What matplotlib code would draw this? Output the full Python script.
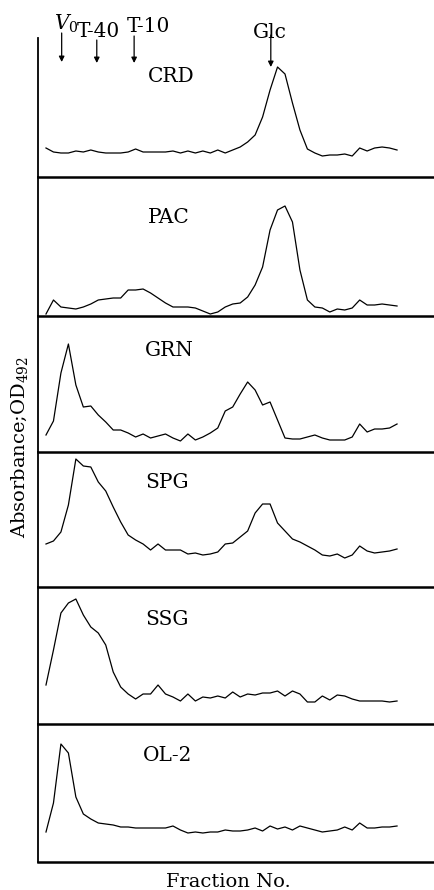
import numpy as np
import matplotlib
matplotlib.use("Agg")
import matplotlib.pyplot as plt

plt.rcParams['font.family'] = ['DejaVu Serif']
plt.rcParams['mathtext.fontset'] = 'dejavuserif'

# ---------------- data ----------------
fractions = list(range(1, 49))
samples = ["CRD", "PAC", "GRN", "SPG", "SSG", "OL-2"]

crd = [0.29, 0.25, 0.24, 0.24, 0.26, 0.25, 0.27, 0.25, 0.24, 0.24, 0.24, 0.25,
       0.28, 0.25, 0.25, 0.25, 0.25, 0.26, 0.24, 0.26, 0.24, 0.26, 0.24, 0.27,
       0.24, 0.27, 0.30, 0.35, 0.42, 0.60, 0.87, 1.10, 1.03, 0.74, 0.47, 0.28,
       0.24, 0.21, 0.22, 0.22, 0.23, 0.21, 0.29, 0.26, 0.29, 0.30, 0.29, 0.27]
pac = [0.02, 0.16, 0.09, 0.08, 0.07, 0.09, 0.12, 0.16, 0.17, 0.18, 0.18, 0.26,
       0.26, 0.27, 0.23, 0.18, 0.13, 0.09, 0.09, 0.09, 0.08, 0.05, 0.02, 0.04,
       0.09, 0.12, 0.13, 0.19, 0.31, 0.49, 0.86, 1.06, 1.10, 0.94, 0.46, 0.16,
       0.09, 0.08, 0.04, 0.07, 0.06, 0.08, 0.16, 0.11, 0.11, 0.12, 0.11, 0.10]
grn = [0.17, 0.31, 0.79, 1.08, 0.67, 0.45, 0.46, 0.37, 0.30, 0.22, 0.22, 0.19,
       0.15, 0.18, 0.14, 0.16, 0.18, 0.14, 0.11, 0.18, 0.12, 0.15, 0.19, 0.24,
       0.41, 0.45, 0.58, 0.70, 0.62, 0.47, 0.50, 0.32, 0.14, 0.13, 0.13, 0.15,
       0.17, 0.14, 0.12, 0.12, 0.12, 0.15, 0.28, 0.20, 0.23, 0.23, 0.24, 0.28]
spg = [0.43, 0.46, 0.55, 0.82, 1.28, 1.21, 1.20, 1.05, 0.96, 0.80, 0.65, 0.52,
       0.47, 0.43, 0.37, 0.43, 0.37, 0.37, 0.37, 0.33, 0.34, 0.32, 0.33, 0.35,
       0.43, 0.44, 0.50, 0.56, 0.74, 0.83, 0.83, 0.64, 0.56, 0.48, 0.45, 0.41,
       0.37, 0.32, 0.31, 0.33, 0.29, 0.32, 0.41, 0.36, 0.34, 0.35, 0.36, 0.38]
ssg = [0.39, 0.74, 1.11, 1.21, 1.25, 1.09, 0.97, 0.91, 0.79, 0.52, 0.37, 0.30,
       0.25, 0.30, 0.30, 0.39, 0.30, 0.27, 0.23, 0.30, 0.23, 0.27, 0.26, 0.28,
       0.26, 0.32, 0.27, 0.30, 0.29, 0.31, 0.31, 0.33, 0.28, 0.33, 0.30, 0.22,
       0.22, 0.28, 0.24, 0.29, 0.28, 0.25, 0.23, 0.23, 0.23, 0.23, 0.22, 0.23]
ol2 = [0.30, 0.59, 1.18, 1.09, 0.65, 0.48, 0.43, 0.39, 0.38, 0.37, 0.35, 0.35,
       0.34, 0.34, 0.34, 0.34, 0.34, 0.36, 0.32, 0.29, 0.30, 0.29, 0.30, 0.30,
       0.32, 0.31, 0.31, 0.32, 0.34, 0.31, 0.36, 0.33, 0.35, 0.32, 0.36, 0.34,
       0.32, 0.30, 0.31, 0.32, 0.35, 0.32, 0.39, 0.34, 0.34, 0.35, 0.35, 0.36]
series = [crd, pac, grn, spg, ssg, ol2]

# elution markers (fraction No.)
marker_names = [r"$V_{\mathrm{0}}$", "T-40", "T-10", "Glc"]
marker_pos = [3.1, 7.8, 12.8, 31.1]

# ---------------- layout ----------------
W, H = 434, 890
panel_px = [139, 139, 136, 135, 137, 138]
ytop, ybot = 38, 862
label_y = [0.683, 0.669, 0.706, 0.733, 0.723, 0.732]
label_x = [0.278, 0.278, 0.270, 0.270, 0.270, 0.265]

fig = plt.figure(figsize=(W / 100, H / 100), dpi=100)
gs = fig.add_gridspec(6, 1, height_ratios=panel_px, hspace=0,
                      left=38 / W, right=1.0, top=1 - ytop / H, bottom=1 - ybot / H)
axes = [fig.add_subplot(gs[i]) for i in range(6)]

for i, ax in enumerate(axes):
    ax.plot(fractions, series[i], color='black', lw=0.9)
    ax.set_xlim(-0.07, 52.95)
    ax.set_ylim(0, panel_px[i] / 100)
    ax.set_xticks([])
    ax.set_yticks([])
    for s in ('top', 'right'):
        ax.spines[s].set_visible(False)
    ax.spines['bottom'].set_linewidth(1.8)
    ax.spines['left'].set_linewidth(1.3)
    ax.patch.set_alpha(0)
    ax.text(label_x[i], label_y[i], samples[i], transform=ax.transAxes,
            fontsize=14.5, ha='left', va='baseline')

# markers with arrows on the top panel
ax0 = axes[0]
arrow_tail = [33, 40, 36, 35]
arrow_tip = [62, 63, 63, 67]
text_base = [30, 37, 32, 38]
text_dx = [5, 2, 14, -1]
for name, pos, t0, t1, tb, dx in zip(marker_names, marker_pos, arrow_tail,
                                     arrow_tip, text_base, text_dx):
    ax0.annotate('', xy=(pos, H - t1), xytext=(pos, H - t0),
                 xycoords=('data', 'figure pixels'),
                 textcoords=('data', 'figure pixels'),
                 arrowprops=dict(arrowstyle='-|>', lw=0.9, color='black',
                                 mutation_scale=8, shrinkA=0, shrinkB=0),
                 annotation_clip=False)
    ax0.annotate(name, xy=(pos, H - tb), xycoords=('data', 'figure pixels'),
                 xytext=(dx, 0), textcoords='offset pixels',
                 ha='center', va='baseline', fontsize=14.5,
                 annotation_clip=False)

fig.text(20 / W, 1 - 447 / H, r"Absorbance;OD$_{492}$", rotation=90,
         ha='center', va='center', fontsize=14)
fig.text(228 / W, 3 / H, "Fraction No.", ha='center', va='baseline', fontsize=14)

fig.savefig("out.png", dpi=100)
